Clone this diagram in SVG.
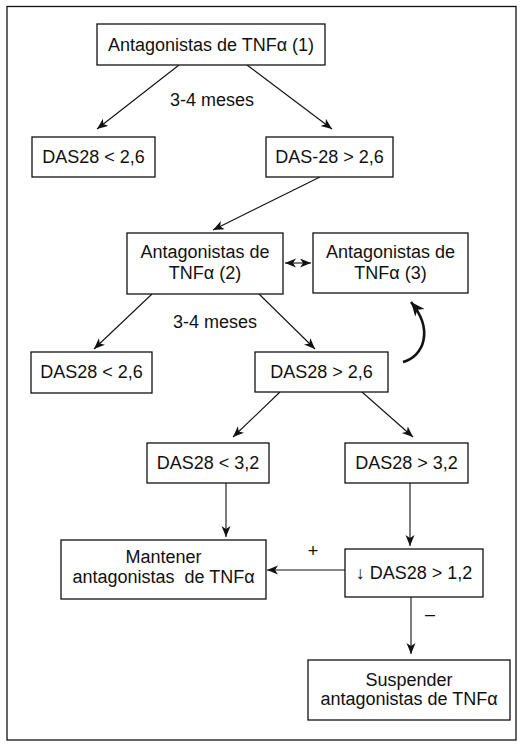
<svg xmlns="http://www.w3.org/2000/svg" width="526" height="745" viewBox="0 0 526 745">
<defs>
<marker id="ah" markerUnits="userSpaceOnUse" markerWidth="12" markerHeight="10" refX="11" refY="4.5" orient="auto-start-reverse" viewBox="0 0 12 10">
<path d="M0,0 L11,4.5 L0,9 L3,4.5 z" fill="#111"/>
</marker>
<marker id="ahb" markerUnits="userSpaceOnUse" markerWidth="16" markerHeight="14" refX="14" refY="6" orient="auto" viewBox="0 0 16 14">
<path d="M0,0 L14,6 L0,12 L4,6 z" fill="#111"/>
</marker>
<style>
.box{fill:#fff;stroke:#111;stroke-width:1.3}
.t{font-family:"Liberation Sans",Arial,sans-serif;font-size:18px;fill:#111;text-anchor:middle;white-space:pre}
.c{fill:none;stroke:#111;stroke-width:1.1;marker-end:url(#ah)}
</style>
</defs>
<rect x="0" y="0" width="526" height="745" fill="#fff"/>
<rect x="7" y="6.5" width="509" height="733.5" fill="none" stroke="#111" stroke-width="1.3"/>
<g id="connectors">
<line class="c" x1="179" y1="65" x2="97" y2="129"/>
<line class="c" x1="247" y1="65" x2="332" y2="129"/>
<line class="c" x1="320" y1="177" x2="213" y2="230"/>
<line class="c" x1="285" y1="263" x2="311" y2="263" style="marker-start:url(#ah)"/>
<line class="c" x1="152" y1="294" x2="94" y2="349"/>
<line class="c" x1="259" y1="294" x2="315" y2="349"/>
<path d="M403,362 C424,356 434,330 411,302" fill="none" stroke="#111" stroke-width="2.6" marker-end="url(#ahb)"/>
<line class="c" x1="280" y1="392" x2="233" y2="437"/>
<line class="c" x1="362" y1="392" x2="413" y2="437"/>
<line class="c" x1="226" y1="483" x2="226" y2="537"/>
<line class="c" x1="410" y1="483" x2="410" y2="546"/>
<line class="c" x1="345" y1="570" x2="267" y2="570"/>
<line class="c" x1="411" y1="597" x2="411" y2="654"/>
<text class="t" x="212" y="106">3-4 meses</text>
<text class="t" x="215" y="328">3-4 meses</text>
<text class="t" x="313" y="557">+</text>
<text class="t" x="430" y="620">–</text>
</g>
<g id="n1"><rect class="box" x="97" y="24" width="228" height="41"/><text class="t" x="211" y="51">Antagonistas de TNFα (1)</text></g>
<g id="n2"><rect class="box" x="32" y="137" width="123" height="40"/><text class="t" x="93.5" y="163">DAS28 &lt; 2,6</text></g>
<g id="n3"><rect class="box" x="266" y="137" width="127" height="40"/><text class="t" x="329.5" y="163">DAS-28 &gt; 2,6</text></g>
<g id="n4"><rect class="box" x="127" y="233" width="156" height="61"/><text class="t" x="205" y="258">Antagonistas de</text><text class="t" x="205" y="279">TNFα (2)</text></g>
<g id="n5"><rect class="box" x="313" y="233" width="155" height="60"/><text class="t" x="390.5" y="258">Antagonistas de</text><text class="t" x="390.5" y="279">TNFα (3)</text></g>
<g id="n6"><rect class="box" x="31" y="352" width="121" height="41"/><text class="t" x="91.5" y="378">DAS28 &lt; 2,6</text></g>
<g id="n7"><rect class="box" x="255" y="352" width="133" height="40"/><text class="t" x="321.5" y="378">DAS28 &gt; 2,6</text></g>
<g id="n8"><rect class="box" x="147" y="443" width="122" height="40"/><text class="t" x="208" y="469">DAS28 &lt; 3,2</text></g>
<g id="n9"><rect class="box" x="345" y="443" width="123" height="40"/><text class="t" x="406.5" y="469">DAS28 &gt; 3,2</text></g>
<g id="n10"><rect class="box" x="61" y="540" width="205" height="59"/><text class="t" x="163.5" y="563">Mantener</text><text class="t" x="163.5" y="583">antagonistas  de TNFα</text></g>
<g id="n11"><rect class="box" x="345" y="549" width="138" height="48"/><text class="t" x="414" y="579">↓ DAS28 &gt; 1,2</text></g>
<g id="n12"><rect class="box" x="308" y="660" width="202" height="60"/><text class="t" x="409" y="686">Suspender</text><text class="t" x="409" y="705">antagonistas de TNFα</text></g>
</svg>
